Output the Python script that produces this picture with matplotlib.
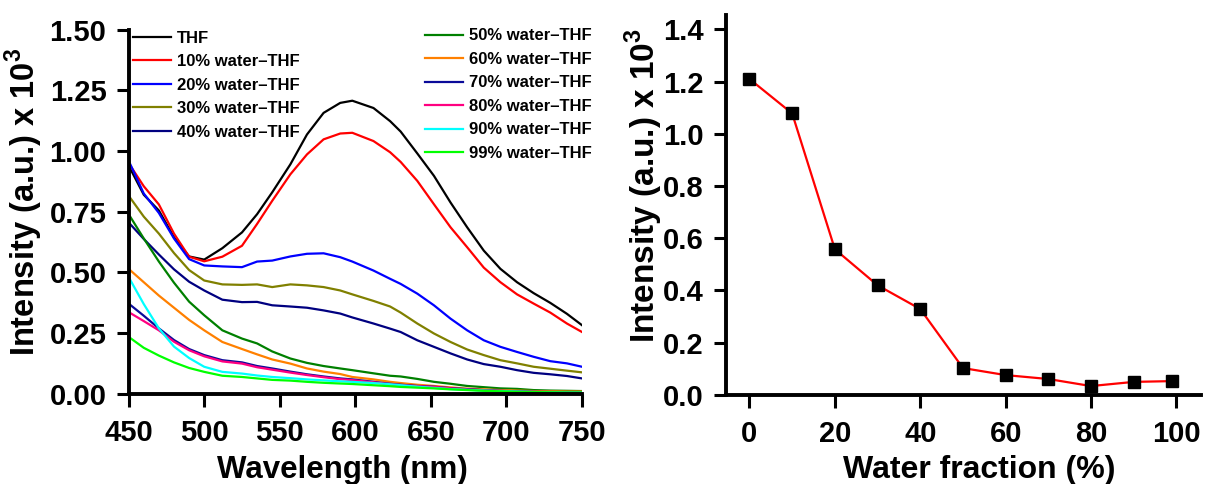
import numpy as np
import matplotlib
matplotlib.use("Agg")
import matplotlib.pyplot as plt

plt.rcParams['font.family'] = ['Liberation Sans', 'DejaVu Sans']
plt.rcParams['font.weight'] = 'bold'
plt.rcParams['mathtext.fontset'] = 'custom'
plt.rcParams['mathtext.rm'] = 'Liberation Sans:bold'
plt.rcParams['mathtext.bf'] = 'Liberation Sans:bold'

# emission spectra, intensity in units of 10^3
wavelength = [450, 460, 470, 480, 490, 500, 512, 525, 535, 545, 557, 568, 579, 590, 598,
              612, 623, 630, 641, 652, 663, 674, 685, 696, 707, 718, 729, 740, 750]

thf = [0.94, 0.82, 0.755, 0.645, 0.566, 0.553, 0.60, 0.665, 0.74, 0.83, 0.945, 1.068, 1.157, 1.198, 1.207,
       1.177, 1.123, 1.08, 0.99, 0.898, 0.788, 0.686, 0.59, 0.515, 0.46, 0.415, 0.375, 0.33, 0.283]
w10 = [0.95, 0.855, 0.78, 0.66, 0.565, 0.546, 0.565, 0.61, 0.70, 0.795, 0.904, 0.986, 1.048, 1.072, 1.075,
       1.041, 0.995, 0.955, 0.877, 0.781, 0.686, 0.604, 0.52, 0.46, 0.41, 0.372, 0.335, 0.29, 0.255]
w20 = [0.96, 0.825, 0.745, 0.64, 0.555, 0.529, 0.525, 0.522, 0.545, 0.549, 0.566, 0.577, 0.579, 0.563, 0.545,
       0.508, 0.474, 0.453, 0.413, 0.365, 0.31, 0.262, 0.221, 0.194, 0.173, 0.153, 0.135, 0.126, 0.112]
w30 = [0.816, 0.73, 0.66, 0.58, 0.51, 0.467, 0.451, 0.449, 0.451, 0.44, 0.451, 0.447, 0.44, 0.426, 0.41,
       0.383, 0.36, 0.335, 0.29, 0.249, 0.214, 0.183, 0.16, 0.139, 0.126, 0.112, 0.104, 0.096, 0.089]
w40 = [0.706, 0.638, 0.574, 0.513, 0.462, 0.426, 0.388, 0.378, 0.379, 0.365, 0.36, 0.355, 0.344, 0.331, 0.315,
       0.29, 0.269, 0.255, 0.221, 0.194, 0.167, 0.142, 0.123, 0.112, 0.098, 0.087, 0.081, 0.074, 0.064]
w50 = [0.74, 0.64, 0.545, 0.458, 0.38, 0.324, 0.262, 0.228, 0.208, 0.175, 0.146, 0.128, 0.115, 0.105, 0.098,
       0.085, 0.075, 0.072, 0.062, 0.05, 0.042, 0.033, 0.028, 0.023, 0.021, 0.016, 0.014, 0.013, 0.012]
w60 = [0.515, 0.46, 0.405, 0.355, 0.305, 0.262, 0.214, 0.185, 0.163, 0.142, 0.125, 0.105, 0.092, 0.082, 0.07,
       0.06, 0.05, 0.045, 0.038, 0.033, 0.027, 0.022, 0.019, 0.016, 0.014, 0.012, 0.011, 0.01, 0.01]
w70 = [0.372, 0.322, 0.27, 0.222, 0.185, 0.16, 0.139, 0.13, 0.115, 0.105, 0.092, 0.081, 0.072, 0.064, 0.06,
       0.05, 0.042, 0.038, 0.033, 0.03, 0.024, 0.02, 0.016, 0.013, 0.011, 0.009, 0.008, 0.007, 0.007]
w80 = [0.337, 0.30, 0.262, 0.215, 0.18, 0.155, 0.134, 0.125, 0.11, 0.1, 0.088, 0.078, 0.069, 0.061, 0.057,
       0.048, 0.04, 0.036, 0.032, 0.029, 0.023, 0.018, 0.015, 0.012, 0.01, 0.008, 0.007, 0.006, 0.006]
w90 = [0.481, 0.37, 0.27, 0.195, 0.148, 0.112, 0.091, 0.084, 0.076, 0.07, 0.065, 0.06, 0.056, 0.052, 0.05,
       0.045, 0.04, 0.036, 0.03, 0.025, 0.02, 0.017, 0.014, 0.012, 0.01, 0.008, 0.007, 0.006, 0.006]
w99 = [0.235, 0.19, 0.158, 0.13, 0.107, 0.091, 0.075, 0.07, 0.064, 0.058, 0.055, 0.05, 0.046, 0.043, 0.041,
       0.036, 0.032, 0.029, 0.026, 0.023, 0.019, 0.016, 0.013, 0.011, 0.009, 0.008, 0.007, 0.006, 0.006]

labels_a = ['THF', '10% water\u2013THF', '20% water\u2013THF', '30% water\u2013THF', '40% water\u2013THF']
labels_b = ['50% water\u2013THF', '60% water\u2013THF', '70% water\u2013THF',
            '80% water\u2013THF', '90% water\u2013THF', '99% water\u2013THF']
colors_a = ['#000000', '#ff0000', '#0000ff', '#808000', '#000080']
colors_b = ['#008000', '#ff8000', '#0a0a99', '#ff0080', '#00ffff', '#00ff00']

# peak intensity vs water fraction
water_frac = [0, 10, 20, 30, 40, 50, 60, 70, 80, 90, 99]
peak_int = [1.21, 1.078, 0.558, 0.42, 0.329, 0.103, 0.076, 0.061, 0.034, 0.05, 0.053]

fig = plt.figure(figsize=(12.08, 4.84), dpi=100)
ax1 = fig.add_axes([0.1065, 0.186, 0.3753, 0.753])
ax2 = fig.add_axes([0.601, 0.184, 0.393, 0.785])


def style_axes(ax):
    for s in ['top', 'right']:
        ax.spines[s].set_visible(False)
    for s in ['left', 'bottom']:
        ax.spines[s].set_linewidth(2.8)
    ax.tick_params(direction='out', length=9, width=2.2, labelsize=21)
    ax.tick_params(axis='x', pad=9)
    ax.tick_params(axis='y', pad=7)
    for t in ax.get_xticklabels() + ax.get_yticklabels():
        t.set_fontweight('bold')


series_a = [thf, w10, w20, w30, w40]
series_b = [w50, w60, w70, w80, w90, w99]
lines_a = []
for ys, c, lab in zip(series_a, colors_a, labels_a):
    ln, = ax1.plot(wavelength, ys, color=c, lw=1.6, label=lab)
    lines_a.append(ln)
lines_b = []
for ys, c, lab in zip(series_b, colors_b, labels_b):
    ln, = ax1.plot(wavelength, ys, color=c, lw=1.6, label=lab)
    lines_b.append(ln)

ax1.set_xlim(450, 750)
ax1.set_ylim(0, 1.5)
ax1.set_xticks(np.arange(450, 751, 50))
ax1.set_yticks(np.arange(0, 1.51, 0.25))
ax1.yaxis.set_major_formatter(matplotlib.ticker.FormatStrFormatter('%.2f'))
style_axes(ax1)
ax1.set_xlabel('Wavelength (nm)', fontsize=22.5, fontweight='bold')
ax1.xaxis.set_label_coords(0.471, -0.167)
ax1.set_ylabel('Intensity (a.u.) x 10$^3$', fontsize=23.5, fontweight='bold')
ax1.yaxis.set_label_coords(-0.184, 0.528)

leg1 = ax1.legend(handles=lines_a, loc='upper left', bbox_to_anchor=(0.009, 0.997),
                  frameon=False, fontsize=12, handlelength=2.3, handletextpad=0.35,
                  labelspacing=0.51, borderpad=0, borderaxespad=0)
for t in leg1.get_texts():
    t.set_fontweight('bold')
ax1.add_artist(leg1)
leg2 = ax1.legend(handles=lines_b, loc='upper left', bbox_to_anchor=(0.654, 1.003),
                  frameon=False, fontsize=12, handlelength=2.3, handletextpad=0.35,
                  labelspacing=0.51, borderpad=0, borderaxespad=0)
for t in leg2.get_texts():
    t.set_fontweight('bold')

ax2.plot(water_frac, peak_int, color='#ff0000', lw=1.6, marker='s', ms=9,
         mfc='black', mec='black')
ax2.set_xlim(-5.5, 105.7)
ax2.set_ylim(0, 1.455)
ax2.set_xticks(np.arange(0, 101, 20))
ax2.set_yticks(np.arange(0, 1.41, 0.2))
ax2.yaxis.set_major_formatter(matplotlib.ticker.FormatStrFormatter('%.1f'))
style_axes(ax2)
ax2.set_xlabel('Water fraction (%)', fontsize=23, fontweight='bold')
ax2.xaxis.set_label_coords(0.533, -0.158)
ax2.set_ylabel('Intensity (a.u.) x 10$^3$', fontsize=24, fontweight='bold')
ax2.yaxis.set_label_coords(-0.128, 0.551)

fig.savefig('out.png', dpi=100)
